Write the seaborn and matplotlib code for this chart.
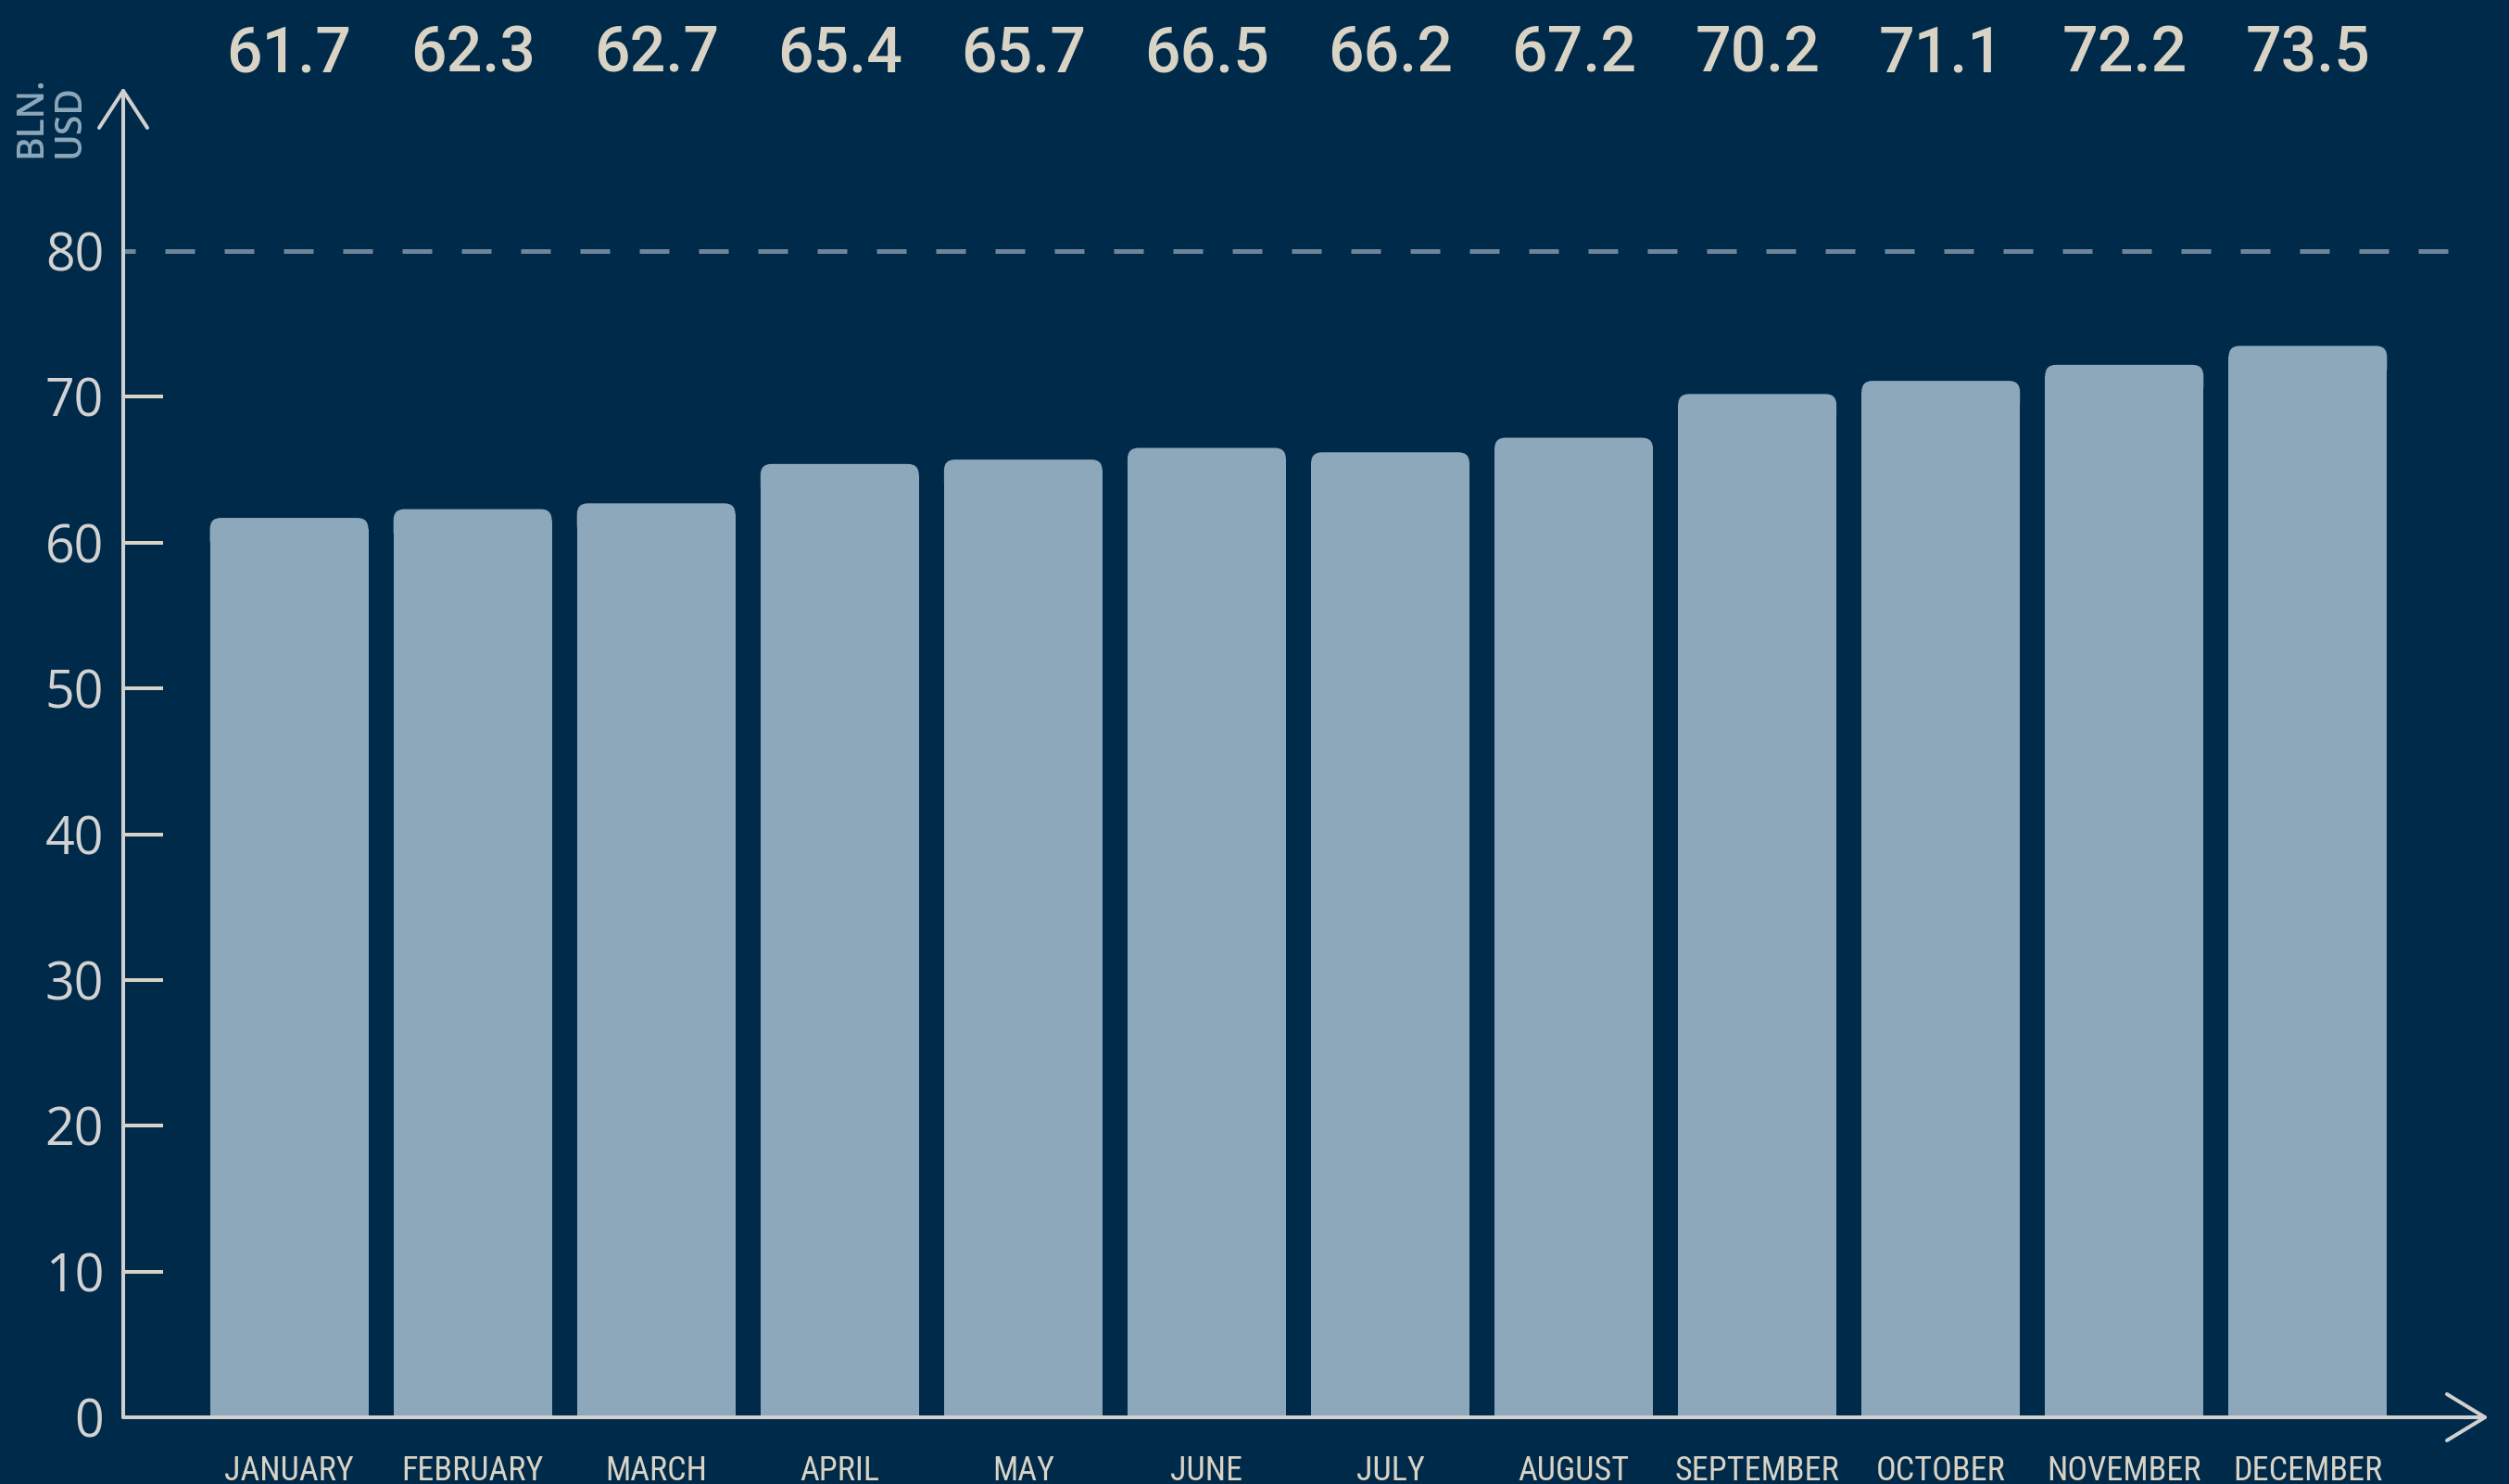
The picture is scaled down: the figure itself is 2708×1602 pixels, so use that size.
#!/usr/bin/env python
import matplotlib
matplotlib.use('Agg')
import matplotlib.pyplot as plt
import matplotlib.transforms as mtransforms
from matplotlib.patches import FancyBboxPatch
from matplotlib.lines import Line2D
import pandas as pd
import seaborn as sns

# monthly values, bln. USD
months = ['JANUARY', 'FEBRUARY', 'MARCH', 'APRIL', 'MAY', 'JUNE', 'JULY',
          'AUGUST', 'SEPTEMBER', 'OCTOBER', 'NOVEMBER', 'DECEMBER']
values = [61.7, 62.3, 62.7, 65.4, 65.7, 66.5, 66.2, 67.2, 70.2, 71.1, 72.2, 73.5]
yticks = [0, 10, 20, 30, 40, 50, 60, 70, 80]
ref_level = 80
unit_label = 'BLN.\nUSD'

df = pd.DataFrame({'month': months, 'value': values})

BG = '#002a4a'
BAR = '#8ea8bb'
AXIS = '#d0d0d0'
TICK = '#d8d3c5'
VAL = '#d8d3c5'
DASH = '#6e8599'

W, H = 2708, 1602
sns.set_theme(style='white')
plt.rcParams['font.family'] = ['Open Sans', 'DejaVu Sans']

fig = plt.figure(figsize=(W / 100, H / 100), dpi=100, facecolor=BG)
# axes box in pixels: left 133, right 2682, bottom 1530, top 98
ax = fig.add_axes([133 / W, (H - 1530) / H, (2682 - 133) / W, (1530 - 98) / H])
ax.set_facecolor(BG)

sns.barplot(data=df, x='month', y='value', order=months, color=BAR,
            saturation=1, width=0.863, ax=ax, linewidth=0)

ax.set_xlim(-0.904, 11.965)
ax.set_ylim(0, 91)

# rounded tops for the bars
rx, ry = 0.06, 0.76
for p in list(ax.patches):
    x0, w, h = p.get_x(), p.get_width(), p.get_height()
    p.set_height(h - ry)
    p.set_linewidth(0)
    top = FancyBboxPatch((x0, h - 3 * ry), w, 3 * ry,
                         boxstyle='round,pad=0,rounding_size=%f' % rx,
                         mutation_aspect=ry / rx, facecolor=BAR,
                         edgecolor='none', linewidth=0)
    ax.add_patch(top)

# dashed reference line
ax.plot([-0.904, 11.79], [ref_level, ref_level], color=DASH, linewidth=3.6,
        linestyle=(3.8, (6.4, 6.4)), solid_capstyle='butt', zorder=1)

# value labels on top, placed in figure height
vtrans = mtransforms.blended_transform_factory(ax.transData, fig.transFigure)
for i, v in enumerate(values):
    ax.text(i, 1 - 78 / H, '%.1f' % v, transform=vtrans,
            ha='center', va='baseline', color=VAL, fontsize=49,
            fontweight='medium', family=['Roboto', 'DejaVu Sans'],
            clip_on=False)

# spines
for s in ['top', 'right']:
    ax.spines[s].set_visible(False)
for s in ['left', 'bottom']:
    ax.spines[s].set_color(AXIS)
    ax.spines[s].set_linewidth(2.9)
    ax.spines[s].set_capstyle('round')

ax.set_yticks(yticks)
ax.set_yticklabels([str(t) for t in yticks])
ax.tick_params(axis='y', left=True, direction='in', length=31, width=2.9,
               color=TICK, pad=15, labelsize=40, labelcolor='#d2d2d2')
ax.tick_params(axis='x', bottom=False, length=0, pad=29, labelsize=26,
               labelcolor=VAL)
for lab in ax.get_yticklabels():
    lab.set_fontweight('medium')
for lab in ax.get_xticklabels():
    lab.set_family(['Roboto Condensed', 'Liberation Sans Narrow',
                    'DejaVu Sans Condensed', 'Open Sans'])
    lab.set_fontweight('normal')
for t, v in zip(ax.yaxis.get_major_ticks(), yticks):
    t.tick1line.set_solid_capstyle('round')
    # no tick mark on the axis floor or at the dashed level
    if v in (0, ref_level):
        t.tick1line.set_visible(False)
ax.set_xlabel('')
ax.set_ylabel('')

# arrow heads on the axes
def chevron(pts):
    xs = [px / W for px, py in pts]
    ys = [1 - py / H for px, py in pts]
    fig.add_artist(Line2D(xs, ys, transform=fig.transFigure, color=AXIS,
                          linewidth=2.9, solid_capstyle='round',
                          solid_joinstyle='round'))

chevron([(133 - 26, 138), (133, 98), (133 + 26, 138)])
chevron([(2682 - 41, 1530 - 25), (2682, 1530), (2682 - 41, 1530 + 25)])

# unit label
fig.text(55 / W, 1 - 170 / H, unit_label, rotation=90, ha='center',
         va='bottom', multialignment='left', color='#8ea8bb', fontsize=28,
         fontweight='semibold', linespacing=1.05)

fig.savefig('out.png', dpi=100, facecolor=BG)
